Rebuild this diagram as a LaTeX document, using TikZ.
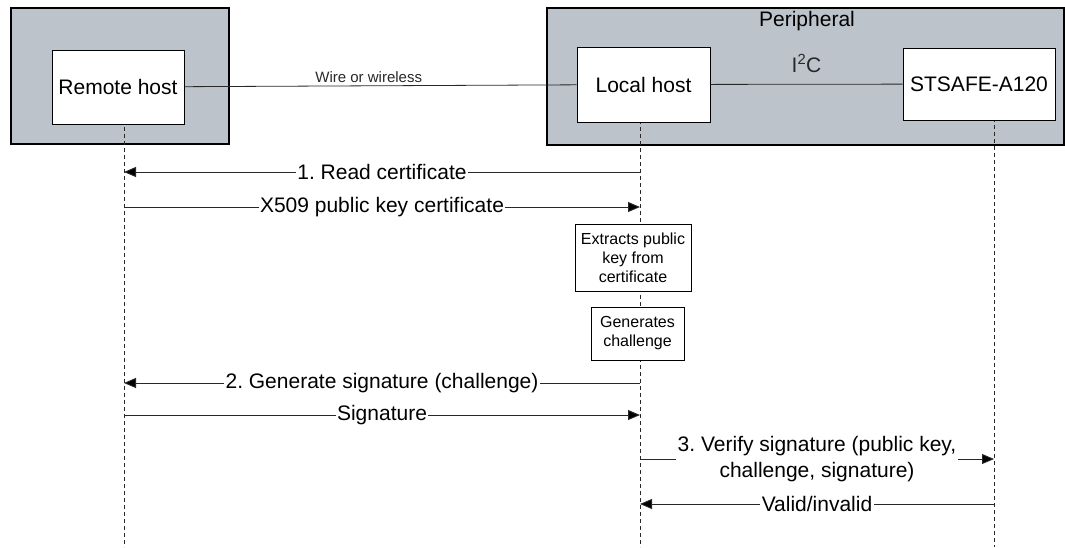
\documentclass[tikz,border=0pt]{standalone}
\usepackage{fontspec}
\setmainfont{Liberation Sans}
\usetikzlibrary{arrows.meta}
\frenchspacing

\definecolor{framegrey}{RGB}{188,195,203}
\definecolor{linegrey}{RGB}{40,40,40}

\begin{document}
\begin{tikzpicture}[x=1pt,y=-1pt,
    lifeline/.style={draw=linegrey,line width=0.7pt,dash pattern=on 4pt off 3pt},
    msg/.style={draw=linegrey,line width=0.9pt,-{Triangle[length=12pt,width=10pt,fill=black]}},
    msglabel/.style={fill=white,inner sep=1.5pt,align=center,font=\fontsize{21}{26}\selectfont},
    note/.style={draw,fill=white,line width=0.8pt,inner sep=0pt,align=center,font=\fontsize{16}{19}\selectfont}]

        \useasboundingbox (0,0) rectangle (1065,547);

        % outer frames
        \begin{scope}[every node/.style={draw,fill=framegrey,line width=2.5pt,inner sep=0pt}]
          \node (remoteframe) at (120,76)    [minimum width=218pt,minimum height=136pt] {};
          \node (peripheral)  at (805.5,76.5) [minimum width=517pt,minimum height=137pt] {};
        \end{scope}
        \node (perlabel) at (807,21) {\fontsize{21}{25}\selectfont Peripheral};

        % lifelines
        \coordinate (rtop) at (124,120);
        \coordinate (rbot) at (124,547);
        \coordinate (ltop) at (640,120);
        \coordinate (lbot) at (640,547);
        \coordinate (stop) at (994,118);
        \coordinate (sbot) at (994,547);
        \draw[lifeline] (rtop) -- (rbot);
        \draw[lifeline] (ltop) -- (lbot);
        \draw[lifeline] (stop) -- (sbot);

        % hosts
        \begin{scope}[every node/.style={draw,fill=white,line width=0.8pt,font=\fontsize{21}{25}\selectfont}]
          \node (remote) at (118,87)     [minimum width=132pt,minimum height=74pt] {Remote host};
          \node (local)  at (643.5,84.5) [minimum width=133pt,minimum height=75pt] {Local host};
          \node (stsafe) at (979,84)     [minimum width=152pt,minimum height=72pt] {STSAFE-A120};
        \end{scope}

        \draw[linegrey,line width=0.8pt] (remote) -- node[pos=0.47,above,inner sep=3pt,font=\fontsize{15}{18}\selectfont] {Wire or wireless} (local);
        \draw[linegrey,line width=0.8pt] (local) -- node[above=8pt,font=\fontsize{21}{25}\selectfont] {I\textsuperscript{2}C} (stsafe);

        % local actions
        \node[note,minimum width=116pt,minimum height=67pt] (extract) at (633,257.5) {Extracts public\\key from\\certificate};
        \node[note,minimum width=93pt,minimum height=53pt] (challenge) at (637.5,333.5) {Generates\\challenge};

        % message ends
        \coordinate (r1) at (124,172);
        \coordinate (l1) at (640,172);
        \coordinate (r2) at (124,207);
        \coordinate (l2) at (640,207);
        \coordinate (r3) at (124,383);
        \coordinate (l3) at (640,383);
        \coordinate (r4) at (124,415);
        \coordinate (l4) at (640,415);
        \coordinate (l5) at (640,459);
        \coordinate (s5) at (994,459);
        \coordinate (l6) at (640,504);
        \coordinate (s6) at (994,504);

        \begin{scope}[every node/.style={msglabel}]
          \path (l1) edge[msg] node {1. Read certificate} (r1);
          \path (r2) edge[msg] node {X509 public key certificate} (l2);
          \path (l3) edge[msg] node {2. Generate signature (challenge)} (r3);
          \path (r4) edge[msg] node {Signature} (l4);
          \path (l5) edge[msg] node {3. Verify signature (public key,\\challenge, signature)} (s5);
          \path (s6) edge[msg] node {Valid/invalid} (l6);
        \end{scope}

      \end{tikzpicture}
\end{document}
